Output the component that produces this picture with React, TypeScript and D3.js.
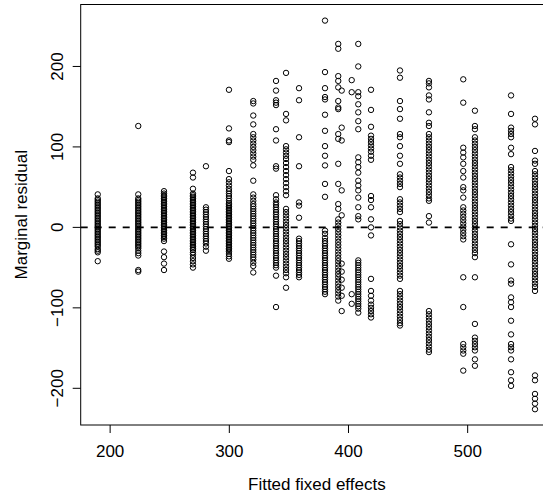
import React from "react";
import * as d3 from "d3";

// Fitted fixed effects for each vertical group of points
const fitted = [189.6, 223.6, 245.2, 269.5, 280.4, 299.7, 320.1, 339.2, 347.6, 358.5, 380.3, 391.4, 394.3, 402.7, 408.2, 418.9, 443.2, 467.5, 496.3, 506.1, 536.4, 556.5];

// Marginal residuals per group
const r01 = [41, 36, 34, 32, 30, 28, 26, 24, 22, 20, 18, 16, 14, 12, 10, 8, 6, 4, 2, 0, -2, -4, -6, -8, -10, -12, -14, -16, -18, -20, -22, -24, -27, -29, -31, -42];
const r02 = [126, 41, 36, 34, 32, 30, 28, 26, 24, 22, 20, 18, 16, 14, 12, 10, 8, 6, 4, 2, 0, -2, -4, -6, -8, -10, -12, -14, -16, -18, -20, -22, -24, -26, -29, -32, -35, -53, -55];
const r03 = [45, 42, 40, 38, 36, 34, 32, 30, 28, 26, 24, 22, 20, 18, 16, 14, 12, 10, 8, 6, 4, 2, 0, -2, -4, -6, -8, -10, -12, -14, -17, -30, -37, -45, -53];
const r04 = [68, 62, 48, 42, 40, 38, 36, 34, 32, 30, 28, 26, 24, 22, 20, 18, 16, 14, 12, 10, 8, 6, 4, 2, 0, -2, -4, -6, -8, -10, -12, -14, -16, -18, -20, -22, -24, -26, -28, -31, -34, -38, -42, -46, -50];
const r05 = [76, 25, 22, 19, 16, 13, 10, 7, 4, 1, -2, -5, -8, -11, -14, -17, -20, -24, -29];
const r06 = [171, 123, 108, 106, 70, 60, 56, 52, 48, 45, 42, 39, 36, 33, 30, 28, 26, 24, 22, 20, 18, 16, 14, 12, 10, 8, 6, 4, 2, 0, -2, -4, -6, -8, -10, -12, -14, -16, -18, -20, -22, -24, -26, -28, -30, -33, -36, -39];
const r07 = [157, 154, 139, 128, 116, 112, 108, 104, 100, 96, 92, 88, 84, 77, 58, 41, 37, 33, 29, 26, 23, 20, 17, 14, 11, 8, 5, 2, -1, -4, -7, -10, -13, -16, -19, -22, -25, -28, -31, -34, -37, -40, -44, -48, -56];
const r08 = [182, 170, 158, 155, 152, 122, 108, 76, 73, 40, 35, 31, 28, 25, 22, 19, 16, 13, 10, 7, 4, 1, -2, -5, -8, -11, -14, -17, -20, -23, -26, -29, -32, -35, -38, -41, -44, -47, -50, -60, -99];
const r09 = [192, 141, 133, 101, 97, 93, 89, 85, 80, 75, 70, 65, 60, 55, 50, 45, 40, 23, 19, 15, 11, 7, 3, -1, -5, -9, -13, -17, -21, -25, -29, -33, -37, -41, -45, -49, -53, -57, -62, -75];
const r10 = [173, 158, 112, 76, 31, 27, 12, -14, -17, -20, -23, -26, -29, -32, -35, -38, -41, -44, -47, -50, -53, -56, -59, -62];
const r11 = [257, 193, 173, 162, 159, 140, 120, 101, 89, 77, 54, 38, -4, -8, -13, -17, -20, -23, -26, -29, -32, -35, -38, -41, -44, -47, -50, -53, -56, -59, -62, -65, -68, -71, -74, -77, -80, -83];
const r12 = [228, 222, 188, 182, 174, 157, 149, 147, 116, 110, 79, 54, 29, 23, 10, 6, 2, -2, -6, -10, -14, -18, -22, -26, -30, -34, -38, -42, -46, -50, -54, -58, -62, -66, -70, -74, -78, -82, -86, -91];
const r13 = [170, 124, 108, 46, 15, -45, -55, -65, -75, -85, -104];
const r14 = [183, 168, -83, -95];
const r15 = [228, 200, 168, 163, 153, 143, 132, 122, 87, 81, 75, 68, 58, 52, 46, 37, 25, 14, 10, -41, -44, -47, -50, -53, -56, -59, -62, -65, -68, -71, -74, -77, -80, -83, -86, -89, -92, -95, -98, -101, -106];
const r16 = [171, 146, 125, 114, 110, 106, 102, 98, 94, 89, 84, 39, 34, 25, 10, 0, -10, -64, -79, -85, -91, -96, -100, -104, -108, -112];
const r17 = [195, 186, 157, 147, 135, 116, 112, 101, 89, 79, 66, 62, 58, 54, 50, 35, 31, 27, 23, 19, 8, 4, 0, -4, -8, -12, -16, -20, -24, -28, -32, -36, -40, -44, -48, -52, -56, -60, -64, -79, -83, -87, -91, -95, -99, -103, -107, -111, -115, -119, -122];
const r18 = [182, 179, 174, 164, 159, 143, 130, 126, 116, 112, 108, 104, 100, 96, 92, 88, 84, 80, 76, 72, 68, 64, 60, 56, 52, 48, 44, 40, 36, 33, 14, 6, -104, -108, -112, -116, -120, -124, -128, -132, -136, -140, -144, -148, -152, -155];
const r19 = [184, 155, 99, 93, 87, 79, 70, 62, 50, 46, 37, 25, 21, 17, 13, 9, 5, 1, -3, -7, -11, -15, -62, -99, -145, -149, -153, -157, -178];
const r20 = [145, 126, 122, 112, 108, 104, 100, 96, 92, 88, 84, 80, 76, 72, 68, 64, 60, 56, 52, 48, 44, 40, 36, 32, 28, 24, 20, 16, 12, 8, 4, 0, -4, -8, -12, -16, -20, -24, -28, -32, -37, -62, -120, -137, -141, -145, -149, -153, -164, -172];
const r21 = [164, 141, 124, 120, 116, 112, 99, 91, 75, 71, 67, 63, 59, 55, 51, 47, 43, 39, 35, 31, 27, 23, 19, 15, 11, 8, -21, -46, -66, -70, -87, -93, -99, -116, -133, -145, -149, -153, -164, -180, -190, -197];
const r22 = [135, 128, 95, 83, 79, 70, 66, 62, 58, 54, 50, 46, 42, 38, 34, 30, 26, 22, 18, 14, 10, 6, 2, -2, -6, -10, -14, -18, -22, -26, -30, -34, -38, -42, -46, -50, -54, -58, -62, -66, -70, -74, -79, -184, -190, -207, -213, -219, -226];

const residuals = [r01, r02, r03, r04, r05, r06, r07, r08, r09, r10, r11, r12, r13, r14, r15, r16, r17, r18, r19, r20, r21, r22];

const xTicks = [200, 300, 400, 500];
const yTicks = [-200, -100, 0, 100, 200];
const xTitle = "Fitted fixed effects";
const yTitle = "Marginal residual";

export default function App() {
  const W = 543;
  const H = 496;
  const left = 80.7, right = 553, top = 4.5, bottom = 425;
  const x = d3.scaleLinear().domain([175.3, 571.6]).range([left, right]);
  const y = d3.scaleLinear().domain([-245.6, 277]).range([bottom, top]);
  const font = "'Liberation Sans', Arial, Helvetica, sans-serif";
  const fmt = (v: number) => (v < 0 ? "\u2212" + Math.abs(v) : String(v));

  const pts: { cx: number; cy: number }[] = [];
  fitted.forEach((f, i) => {
    residuals[i].forEach((r) => pts.push({ cx: x(f), cy: y(r) }));
  });

  return (
    <svg width={W} height={H} style={{ position: "absolute", left: 0, top: 0, background: "#fff" }} fontFamily={font}>
      <rect x={0} y={0} width={W} height={H} fill="#fff" />
      <line x1={left} x2={right} y1={y(0)} y2={y(0)} stroke="#000" strokeWidth={1.8} strokeDasharray="7,7" />
      {pts.map((p, i) => (
        <circle key={i} cx={p.cx} cy={p.cy} r={2.7} fill="none" stroke="#000" strokeWidth={1} />
      ))}
      <rect x={left} y={top} width={right - left} height={bottom - top} fill="none" stroke="#000" strokeWidth={1} />
      {xTicks.map((t) => (
        <g key={t}>
          <line x1={x(t)} x2={x(t)} y1={bottom} y2={bottom + 8} stroke="#000" strokeWidth={1} />
          <text x={x(t)} y={456.5} textAnchor="middle" fontSize={17} fill="#000">{fmt(t)}</text>
        </g>
      ))}
      {yTicks.map((t) => (
        <g key={t}>
          <line x1={left} x2={left - 8} y1={y(t)} y2={y(t)} stroke="#000" strokeWidth={1} />
          <text transform={`translate(62.5,${y(t)}) rotate(-90)`} textAnchor="middle" fontSize={17} fill="#000">{fmt(t)}</text>
        </g>
      ))}
      <text x={(left + right) / 2} y={490} textAnchor="middle" fontSize={17} fill="#000">{xTitle}</text>
      <text transform={`translate(27,${(top + bottom) / 2}) rotate(-90)`} textAnchor="middle" fontSize={17} fill="#000">{yTitle}</text>
    </svg>
  );
}
